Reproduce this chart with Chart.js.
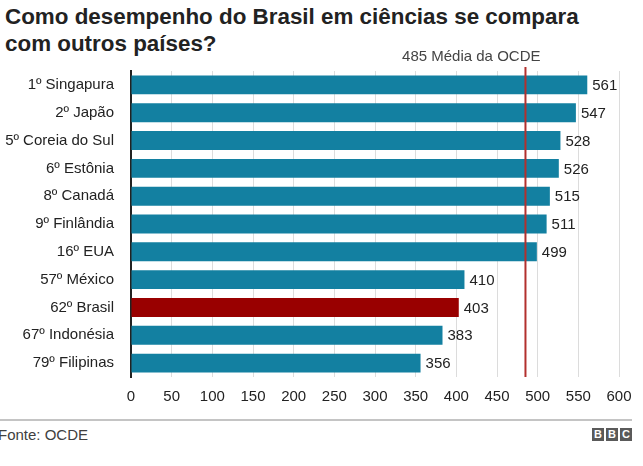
<!DOCTYPE html>
<html><head><meta charset="utf-8">
<script src="https://cdn.jsdelivr.net/npm/chart.js@4.4.0/dist/chart.umd.min.js"></script>
<style>
html,body{margin:0;padding:0;background:#fff;width:643px;height:466px;overflow:hidden;font-family:"Liberation Sans",Arial,sans-serif;}
#title{position:absolute;left:5px;top:3px;font-size:22.4px;font-weight:bold;line-height:27px;color:#222;}
#wrap{position:absolute;left:0;top:40px;width:643px;height:375px;}
#rule{position:absolute;left:0;top:419px;width:632px;height:2px;background:#c4c4c4;}
#src{position:absolute;left:-2px;top:426px;font-size:15px;color:#404040;}
#bbc{position:absolute;left:592px;top:428px;display:flex;gap:2px;}
#bbc span{display:block;width:12px;height:13px;background:#5a5a5a;color:#fff;font-size:11px;font-weight:bold;line-height:13px;text-align:center;}
</style></head>
<body>
<div id="title">Como desempenho do Brasil em ciências se compara<br>com outros países?</div>
<div id="wrap"><canvas id="c" width="643" height="375"></canvas></div>
<div id="rule"></div>
<div id="src">Fonte: OCDE</div>
<div id="bbc"><span>B</span><span>B</span><span>C</span></div>
<script>
const categories = ["1º Singapura","2º Japão","5º Coreia do Sul","6º Estônia","8º Canadá","9º Finlândia","16º EUA","57º México","62º Brasil","67º Indonésia","79º Filipinas"];
const scores = [561,547,528,526,515,511,499,410,403,383,356];
const highlight = "62º Brasil";
const oecdAverage = 485;
const oecdLabel = "485 Média da OCDE";
const xTicks = [0,50,100,150,200,250,300,350,400,450,500,550,600];

const colors = categories.map(c => c === highlight ? "#990000" : "#1380A1");
const FONT = "'Liberation Sans', Arial, sans-serif";

const overlay = {
  id: "overlay",
  afterDatasetsDraw(chart) {
    const ctx = chart.ctx;
    const meta = chart.getDatasetMeta(0);
    ctx.save();
    ctx.font = "15px " + FONT;
    ctx.fillStyle = "#222";
    ctx.textAlign = "left";
    ctx.textBaseline = "middle";
    meta.data.forEach((bar, i) => {
      ctx.fillText(String(scores[i]), bar.x + 5, bar.y + 1);
    });
    const x = chart.scales.x.getPixelForValue(oecdAverage);
    const area = chart.chartArea;
    ctx.strokeStyle = "#b2302e";
    ctx.lineWidth = 2;
    ctx.beginPath();
    ctx.moveTo(x, area.top - 4);
    ctx.lineTo(x, area.bottom);
    ctx.stroke();
    ctx.fillStyle = "#444";
    ctx.textAlign = "right";
    ctx.fillText(oecdLabel, x + 15, area.top - 14);
    ctx.restore();
  }
};

new Chart(document.getElementById("c"), {
  type: "bar",
  data: {
    labels: categories,
    datasets: [{ data: scores, backgroundColor: colors, borderWidth: 0,
      categoryPercentage: 1.0, barPercentage: 0.68 }]
  },
  options: {
    indexAxis: "y",
    responsive: false,
    animation: false,
    layout: { padding: { top: 31, right: 24, left: 0, bottom: 0 } },
    plugins: { legend: { display: false }, tooltip: { enabled: false } },
    scales: {
      x: {
        min: 0, max: 600,
        afterBuildTicks(s) { s.ticks = xTicks.map(v => ({ value: v })); },
        afterFit(s) { s.height = 38; },
        grid: { color: "#dcdcdc", lineWidth: 1, drawTicks: false },
        border: { display: false },
        ticks: { color: "#222", padding: 11, maxRotation: 0,
          font: { family: FONT, size: 15 } }
      },
      y: {
        afterFit(s) { s.width = 131; },
        grid: { display: false },
        border: { display: true, color: "#222", width: 2 },
        ticks: { color: "#222", padding: 9,
          font: { family: FONT, size: 15 } }
      }
    }
  },
  plugins: [overlay]
});
</script>
</body></html>
